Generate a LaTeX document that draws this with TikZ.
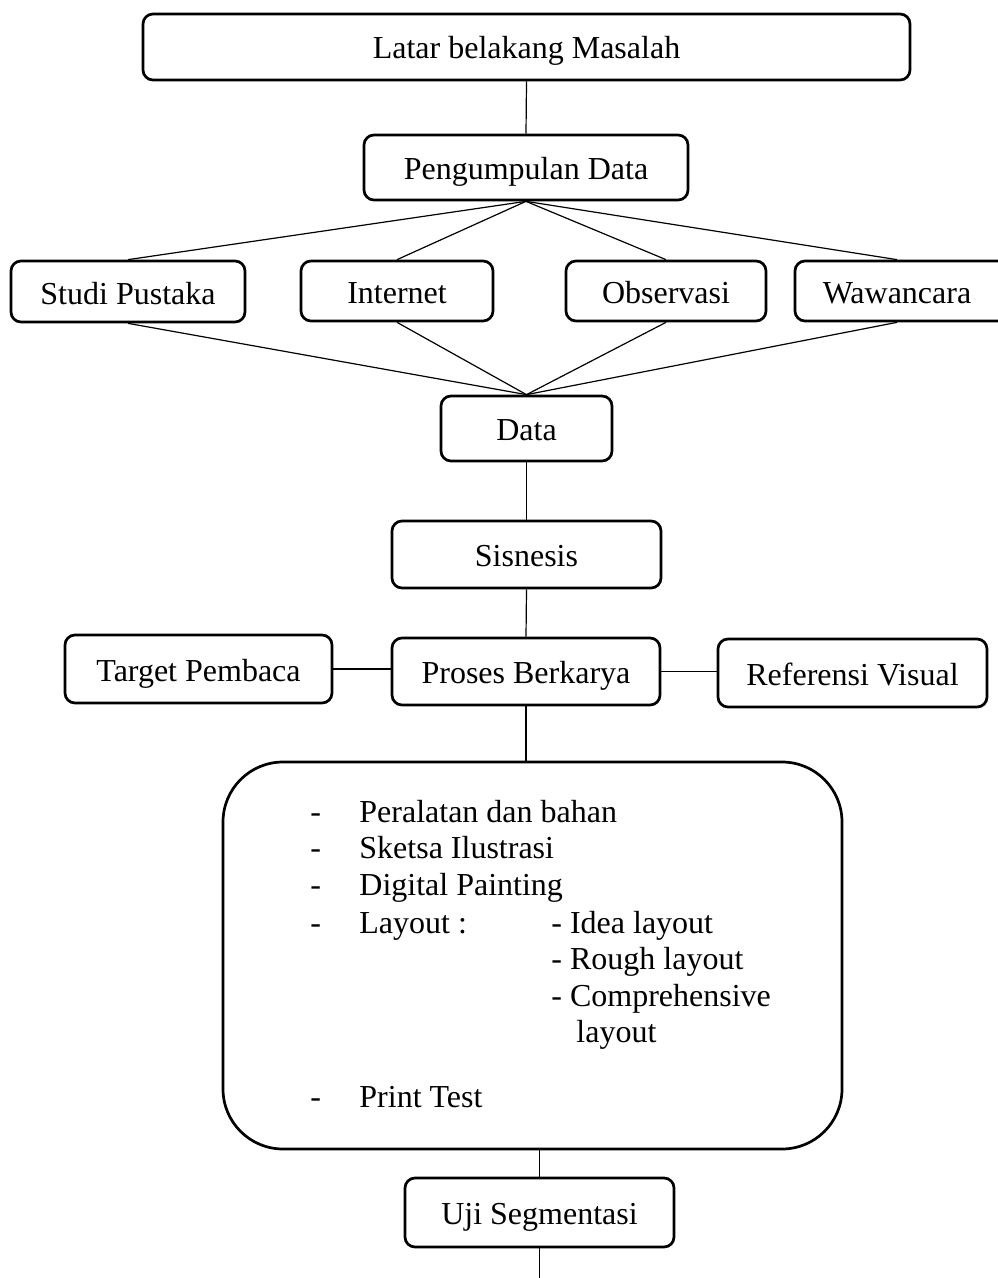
\documentclass[tikz,border=0pt]{standalone}
\usepackage{fontspec}
\setmainfont{Liberation Serif}
\begin{document}
\begin{tikzpicture}[x=0.5pt,y=-0.5pt,
  box/.style={draw, line width=1.35pt, rounded corners=5pt, inner sep=0pt,
    text height=12pt, text depth=0pt,
    font=\fontsize{16}{19}\selectfont},
  sz/.style 2 args={minimum width=#1*0.5pt, minimum height=#2*0.5pt},
  link/.style={line width=0.6pt},
  item/.style={anchor=base west, inner sep=0pt, font=\fontsize{16}{19}\selectfont}]
\useasboundingbox (0,0) rectangle (997,1278);

% main chain of boxes
\node[box, sz={767}{66}] (top) at (526.5,47) {Latar belakang Masalah};
\node[box, sz={324}{65}] (pd) at (526,167.5) {Pengumpulan Data};
\node[box, sz={234}{61}, text height=13pt] (studi) at (128,291.5) {Studi Pustaka};
\node[box, sz={192}{60}, text height=13pt] (inet) at (397,291) {Internet};
\node[box, sz={200}{60}, text height=13pt] (obs) at (666,291) {Observasi};
\node[box, sz={216}{60}, text height=13pt] (waw) at (903,291) {\hspace*{-6pt}Wawancara};
\node[box, sz={171}{65}] (data) at (526.5,428.5) {Data};
\node[box, sz={269}{67}] (sis) at (526.5,554.5) {Sisnesis};
\node[box, sz={267}{68}] (tgt) at (198.5,669) {Target Pembaca};
\node[box, sz={268}{67}] (proc) at (526,671.5) {Proses Berkarya};
\node[box, sz={269}{68}] (ref) at (852.5,673) {Referensi Visual};
\node[box, sz={619}{387}, rounded corners=30pt] (big) at (532.5,955.5) {};
\node[box, sz={269}{69}] (uji) at (539.5,1212.5) {Uji Segmentasi};
\coordinate (end) at (539.5,1285);

% contents of the work-process box
\node[item] (d1) at (310,822) {-};
\node[item] (t1) at (359,822) {Peralatan dan bahan};
\node[item] (d2) at (310,858) {-};
\node[item] (t2) at (359,858) {Sketsa Ilustrasi};
\node[item] (d3) at (310,895) {-};
\node[item] (t3) at (359,895) {Digital Painting};
\node[item] (d4) at (310,933) {-};
\node[item] (t4) at (359,933) {Layout :};
\node[item] (s1) at (551,933) {- Idea layout};
\node[item] (s2) at (551,969) {- Rough layout};
\node[item] (s3) at (551,1006) {- Comprehensive};
\node[item] (s4) at (576,1042) {layout};
\node[item] (d5) at (310,1107) {-};
\node[item] (t5) at (359,1107) {Print Test};

% connectors
\draw[link] (top.south) -- (pd.north);
\foreach \n in {studi,inet,obs}{
  \draw[link] (pd.south) -- (\n.north);
  \draw[link] (\n.south) -- (data.north);
}
\draw[link] (pd.south) -- ([xshift=-3pt]waw.north);
\draw[link] ([xshift=-3pt]waw.south) -- (data.north);
\draw[link] (data.south) -- (sis.north);
\draw[link] (sis.south) -- (proc.north);
\draw[link] (tgt.east) -- (tgt.east -| proc.west);
\draw[link] (proc.east) -- (proc.east -| ref.west);
\draw[link] (proc.south) -- (proc.south |- big.north);
\draw[link] (uji.north) -- (uji.north |- big.south);
\draw[link] (uji.south) -- (end);
\end{tikzpicture}
\end{document}
